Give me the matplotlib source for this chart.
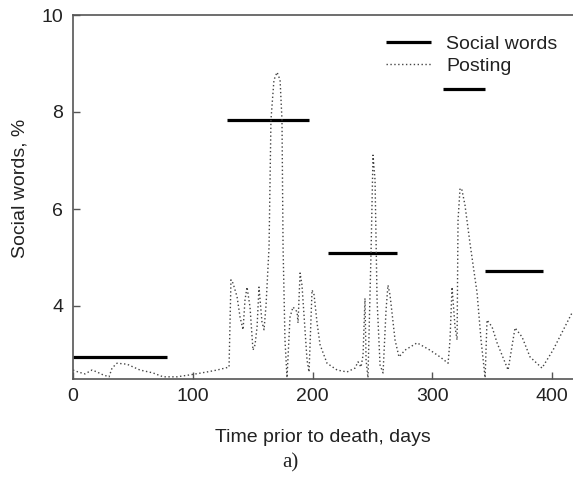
import matplotlib
matplotlib.use("Agg")
import matplotlib.pyplot as plt

plt.rcParams['font.family'] = ['Liberation Sans', 'DejaVu Sans']

# Posting curve (days prior to death, social words %)
posting_days = [0.0, 4.2, 10.0, 15.9, 20.0, 25.1, 30.1, 32.6, 36.7, 45.1, 55.9, 66.8, 75.2, 86.8,
                97.7, 111.9, 120.3, 130.3, 131.9, 133.6, 137.0, 139.5, 142.0, 143.6, 145.3, 147.8,
                150.3, 152.0, 153.7, 155.3, 157.8, 159.5, 161.2, 163.7, 165.3, 167.8, 170.4, 172.9,
                174.5, 175.4, 177.0, 178.7, 181.2, 183.7, 187.1, 187.9, 189.6, 191.2, 192.9, 195.4,
                197.1, 199.6, 201.3, 203.8, 206.3, 212.1, 220.5, 228.8, 235.5, 238.0, 240.5, 242.2,
                243.8, 244.7, 246.3, 248.9, 250.5, 252.2, 253.9, 256.4, 258.9, 261.4, 263.0, 264.7,
                268.9, 272.2, 277.2, 287.3, 298.1, 306.5, 313.2, 314.8, 316.5, 319.0, 320.7, 321.5,
                323.2, 324.8, 327.3, 331.5, 337.4, 340.7, 344.1, 345.7, 349.9, 354.1, 363.3, 369.1,
                375.0, 381.6, 391.6, 400.8, 416.7]
posting_values = [2.68, 2.64, 2.60, 2.68, 2.64, 2.58, 2.54, 2.72, 2.82, 2.80, 2.68, 2.62, 2.54, 2.54,
                  2.58, 2.64, 2.68, 2.74, 4.54, 4.47, 4.19, 3.77, 3.51, 4.12, 4.39, 3.98,
                  3.09, 3.20, 3.57, 4.39, 3.67, 3.51, 4.02, 5.22, 7.84, 8.66, 8.82, 8.66,
                  7.84, 5.22, 3.30, 2.52, 3.77, 3.98, 3.88, 3.65, 4.68, 4.43, 3.81, 2.89,
                  2.64, 4.33, 4.23, 3.65, 3.20, 2.82, 2.68, 2.64, 2.72, 2.85, 2.74, 2.99,
                  4.16, 2.89, 2.52, 5.15, 7.11, 6.60, 4.12, 2.78, 2.62, 3.92, 4.43, 4.23,
                  3.30, 2.95, 3.09, 3.24, 3.09, 2.95, 2.82, 3.30, 4.39, 3.57, 3.30, 5.77,
                  6.43, 6.39, 6.08, 5.29, 4.27, 3.30, 2.52, 3.71, 3.57, 3.24, 2.68, 3.55,
                  3.36, 2.95, 2.72, 3.09, 3.86]

# Social words segments
social_start = [0.0, 128.6, 212.9, 309.0, 344.1]
social_end = [78.5, 197.1, 270.6, 344.1, 392.5]
social_values = [2.94, 7.84, 5.10, 8.47, 4.73]

x_ticks = [0, 100, 200, 300, 400]
y_ticks = [4, 6, 8, 10]

text_color = '#222222'
fig = plt.figure(figsize=(5.73, 4.79), dpi=100)
ax = fig.add_axes([73/573, 1 - 378.75/479, 1 - 73/573, (378.75 - 15)/479])

spine_color = '#555555'
ln_social = None
for s, e, v in zip(social_start, social_end, social_values):
    ln_social, = ax.plot([s, e], [v, v], color='black', lw=2.3, solid_capstyle='butt')
ln_post, = ax.plot(posting_days, posting_values, color='#444444', lw=1.0,
                   linestyle=(0, (1, 1.8)))

ax.set_xlim(0, 417.5)
ax.set_ylim(2.5, 10)
ax.set_xticks(x_ticks)
ax.set_yticks(y_ticks)
ax.tick_params(direction='in', length=5, width=1, color=spine_color, labelsize=14, pad=7,
               labelcolor=text_color)
ax.spines['right'].set_visible(False)
for sp in ['left', 'bottom', 'top']:
    ax.spines[sp].set_color(spine_color)
    ax.spines[sp].set_linewidth(1.2)

leg = ax.legend([ln_social, ln_post], ['Social words', 'Posting'], loc='upper right',
                bbox_to_anchor=(0.985, 0.965), frameon=False, fontsize=14,
                handlelength=2.3, handletextpad=0.8, labelspacing=0.2, borderaxespad=0)
for t in leg.get_texts():
    t.set_color(text_color)

fig.text(323/573, 1 - 437/479, 'Time prior to death, days', ha='center', va='center',
         fontsize=14, color=text_color)
fig.text(290/573, 1 - 463/479, 'a)', ha='center', va='center', fontsize=15,
         family=['Liberation Serif', 'DejaVu Serif'], color=text_color)
fig.text(20/573, 1 - 188/479, 'Social words, %', ha='center', va='center', rotation=90,
         fontsize=14, color=text_color)

fig.savefig('out.png', dpi=100)
